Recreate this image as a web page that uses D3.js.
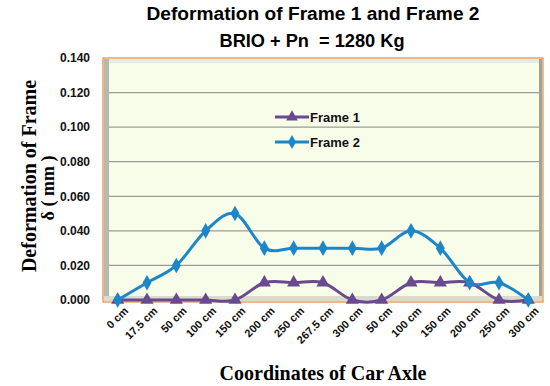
<!DOCTYPE html>
<html>
<head>
<meta charset="utf-8">
<script src="https://cdn.jsdelivr.net/npm/d3@7"></script>
<style>
  body { margin: 0; background: #fff; }
  svg { display: block; }
  text { white-space: pre; }
</style>
</head>
<body>
<svg id="chart" width="550" height="386"></svg>
<script>
var categories = ["0 cm", "17.5 cm", "50 cm", "100 cm", "150 cm", "200 cm", "250 cm", "267.5 cm",
  "300 cm", "50 cm", "100 cm", "150 cm", "200 cm", "250 cm", "300 cm"];
var frame1 = [0, 0, 0, 0, 0, 0.01, 0.01, 0.01, 0, 0, 0.01, 0.01, 0.01, 0, 0];
var frame2 = [0, 0.01, 0.02, 0.04, 0.05, 0.03, 0.03, 0.03, 0.03, 0.03, 0.04, 0.03, 0.01, 0.01, 0];
var yTicks = [0, 0.02, 0.04, 0.06, 0.08, 0.1, 0.12, 0.14];

var svg = d3.select("#chart");
var plotLeft = 103, plotRight = 543, plotTop = 58, plotBottom = 302;

var x = d3.scaleBand().domain(d3.range(categories.length)).range([plotLeft, plotRight]);
var y = d3.scaleLinear().domain([0, 0.14]).range([300, plotTop]);

// titles
svg.append("text").attr("x", 313).attr("y", 20).attr("text-anchor", "middle")
  .attr("font-family", "Liberation Sans, Arial, sans-serif").attr("font-weight", "bold")
  .attr("font-size", 18).attr("textLength", 333).attr("lengthAdjust", "spacingAndGlyphs")
  .text("Deformation of Frame 1 and Frame 2");
svg.append("text").attr("x", 312).attr("y", 47).attr("text-anchor", "middle")
  .attr("font-family", "Liberation Sans, Arial, sans-serif").attr("font-weight", "bold")
  .attr("font-size", 18).attr("textLength", 185).attr("lengthAdjust", "spacingAndGlyphs")
  .text("BRIO + Pn  = 1280 Kg");

// plot box
svg.append("rect").attr("x", plotLeft).attr("y", plotTop).attr("width", plotRight - plotLeft).attr("height", plotBottom - plotTop)
  .attr("fill", "#f8fde9").attr("stroke", "#e58a4a").attr("stroke-width", 1.2);
// back wall / side wall shading
svg.append("rect").attr("x", plotLeft + 1).attr("y", plotTop + 1).attr("width", plotRight - plotLeft - 2).attr("height", 4)
  .attr("fill", "#e9ecdc");
svg.append("rect").attr("x", plotLeft + 1).attr("y", plotTop + 1).attr("width", 5).attr("height", plotBottom - plotTop - 2)
  .attr("fill", "#b7b9ad");
svg.append("rect").attr("x", plotRight - 4).attr("y", plotTop + 1).attr("width", 3).attr("height", plotBottom - plotTop - 2)
  .attr("fill", "#9fa396");
svg.append("rect").attr("x", plotLeft + 1).attr("y", 296).attr("width", plotRight - plotLeft - 2).attr("height", 5)
  .attr("fill", "#d9dccd");

// gridlines
svg.append("g").selectAll("line").data(yTicks.slice(1, -1)).join("line")
  .attr("x1", plotLeft + 6).attr("x2", plotRight - 4)
  .attr("y1", function (d) { return y(d); }).attr("y2", function (d) { return y(d); })
  .attr("stroke", "#9a9c94").attr("stroke-width", 1.3);

// y axis labels
var yAxis = d3.axisLeft(y).tickValues(yTicks).tickFormat(d3.format(".3f")).tickSize(0).tickPadding(0);
var gy = svg.append("g").attr("transform", "translate(90,0)").call(yAxis);
gy.select(".domain").remove();
gy.selectAll("text").attr("font-family", "Liberation Sans, Arial, sans-serif")
  .attr("font-weight", "bold").attr("font-size", 12).attr("fill", "#111");

// x axis labels
var xAxis = d3.axisBottom(x).tickFormat(function (i) { return categories[i]; }).tickSize(0);
var gx = svg.append("g").attr("transform", "translate(0,306)").call(xAxis);
gx.select(".domain").remove();
gx.selectAll("text").attr("font-family", "Liberation Sans, Arial, sans-serif")
  .attr("font-weight", "bold").attr("font-size", 11).attr("fill", "#111")
  .attr("text-anchor", "end").attr("dx", "4").attr("dy", "0.8em")
  .attr("transform", "rotate(-45)");

// axis titles
svg.append("text").attr("transform", "translate(36,176) rotate(-90)").attr("text-anchor", "middle")
  .attr("font-family", "Liberation Serif, Times New Roman, serif").attr("font-weight", "bold")
  .attr("font-size", 20).text("Deformation of Frame");
svg.append("text").attr("transform", "translate(54,188) rotate(-90)").attr("text-anchor", "middle")
  .attr("font-family", "Liberation Serif, Times New Roman, serif").attr("font-weight", "bold")
  .attr("font-size", 18).text("δ ( mm )");
svg.append("text").attr("x", 323).attr("y", 380).attr("text-anchor", "middle")
  .attr("font-family", "Liberation Serif, Times New Roman, serif").attr("font-weight", "bold")
  .attr("font-size", 20).text("Coordinates of Car Axle");

// series
var series = [
  { name: "Frame 1", values: frame1, color: "#6a4a8e", symbol: d3.symbolTriangle, size: 75 },
  { name: "Frame 2", values: frame2, color: "#1c86c8", symbol: d3.symbolDiamond, size: 70 }
];
var line = d3.line()
  .x(function (d, i) { return x(i) + x.bandwidth() / 2; })
  .y(function (d) { return y(d); })
  .curve(d3.curveCatmullRom.alpha(0));

series.forEach(function (s) {
  svg.append("path").datum(s.values).attr("d", line)
    .attr("fill", "none").attr("stroke", s.color).attr("stroke-width", 3);
  svg.append("g").selectAll("path").data(s.values).join("path")
    .attr("transform", function (d, i) {
      return "translate(" + (x(i) + x.bandwidth() / 2) + "," + y(d) + ")";
    })
    .attr("d", d3.symbol().type(s.symbol).size(s.size))
    .attr("fill", s.color);
});

// legend
var legend = svg.append("g");
series.forEach(function (s, i) {
  var ly = 117 + i * 25;
  legend.append("line").attr("x1", 275).attr("x2", 309).attr("y1", ly).attr("y2", ly)
    .attr("stroke", s.color).attr("stroke-width", 3);
  legend.append("path").attr("transform", "translate(292," + ly + ")")
    .attr("d", d3.symbol().type(s.symbol).size(s.size * 0.8)).attr("fill", s.color);
  legend.append("text").attr("x", 310).attr("y", ly + 5)
    .attr("font-family", "Liberation Sans, Arial, sans-serif").attr("font-weight", "bold")
    .attr("font-size", 13).attr("fill", "#111").text(s.name);
});
</script>
</body>
</html>
